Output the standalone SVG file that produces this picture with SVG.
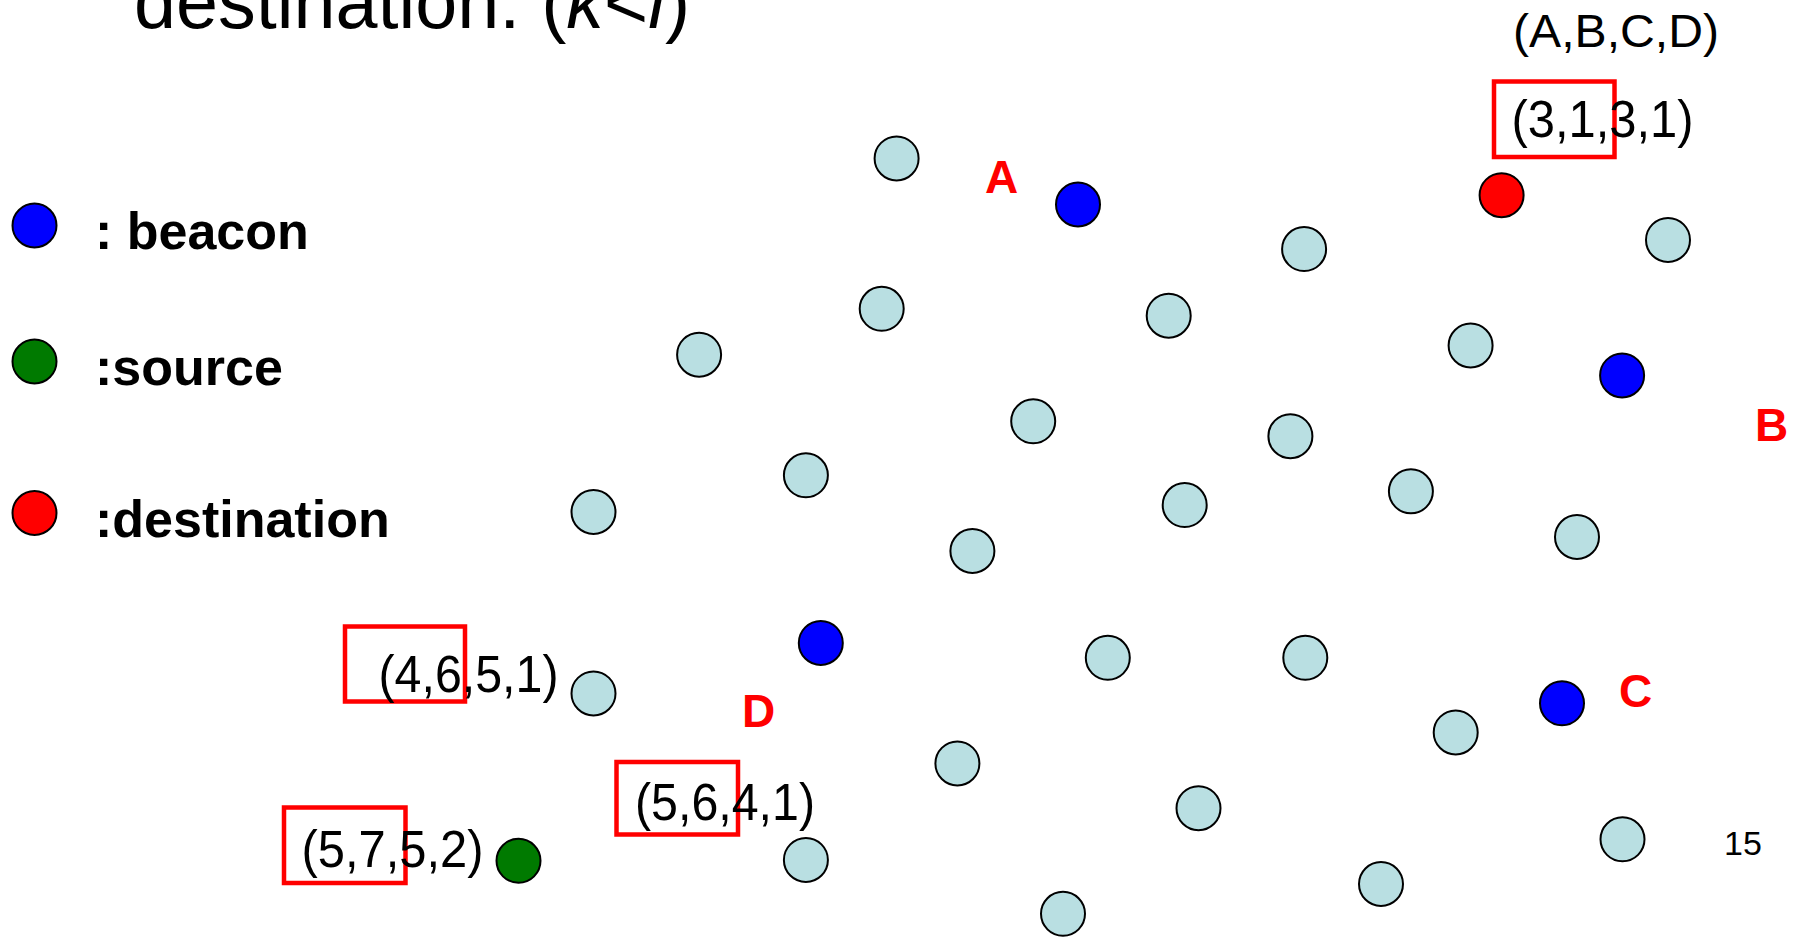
<svg xmlns="http://www.w3.org/2000/svg" width="1800" height="937" viewBox="0 0 1800 937">
<style>
  .n { stroke: #000; stroke-width: 2; }
  .plain { fill: #b9dfe2; }
  .beacon { fill: #0000ff; }
  .source { fill: #007a00; }
  .dest { fill: #ff0000; }
  .t { font-family: "Liberation Sans", Arial, sans-serif; fill: #000; }
  .lbl { font-size: 51px; }
  .leg { font-size: 52px; font-weight: bold; }
  .rl { font-family: "Liberation Sans", Arial, sans-serif; font-size: 46px; font-weight: bold; fill: #ff0000; }
  .box { fill: none; stroke: #ff0000; stroke-width: 4.5; }
</style>
<rect width="1800" height="937" fill="#ffffff"/>

<g id="title">
  <text class="t" x="134" y="28" font-size="75.5">destination: (<tspan font-style="italic">k</tspan>&lt;<tspan font-style="italic">l</tspan>)</text>
</g>

<g id="legend">
  <g id="legend-beacon"><circle class="n beacon" cx="34.5" cy="225.5" r="22"/><text class="t leg" x="95" y="249">: beacon</text></g>
  <g id="legend-source"><circle class="n source" cx="34.5" cy="361.5" r="22"/><text class="t leg" x="95" y="385">:source</text></g>
  <g id="legend-destination"><circle class="n dest" cx="34.5" cy="513" r="22"/><text class="t leg" x="95" y="537">:destination</text></g>
</g>

<g id="header-label"><text class="t" font-size="47" x="1513" y="47" textLength="206" lengthAdjust="spacingAndGlyphs">(A,B,C,D)</text></g>

<g id="nodes">
  <g id="n1"><circle class="n plain" cx="896.6" cy="158.4" r="22"/></g>
  <g id="beacon-A"><circle class="n beacon" cx="1078" cy="204.5" r="22"/><text class="rl" x="985" y="193">A</text></g>
  <g id="destination"><circle class="n dest" cx="1501.6" cy="195.2" r="22"/>
    <rect class="box" x="1494" y="81.5" width="120.5" height="75.5"/>
    <text class="t lbl" x="1511.5" y="137" textLength="182" lengthAdjust="spacingAndGlyphs">(3,1,3,1)</text></g>
  <g id="n4"><circle class="n plain" cx="1304.1" cy="249.1" r="22"/></g>
  <g id="n5"><circle class="n plain" cx="1668" cy="239.9" r="22"/></g>
  <g id="n6"><circle class="n plain" cx="881.7" cy="308.8" r="22"/></g>
  <g id="n7"><circle class="n plain" cx="1168.7" cy="315.7" r="22"/></g>
  <g id="n8"><circle class="n plain" cx="699.1" cy="354.7" r="22"/></g>
  <g id="n9"><circle class="n plain" cx="1470.6" cy="345.5" r="22"/></g>
  <g id="beacon-B"><circle class="n beacon" cx="1622.1" cy="375.4" r="22"/><text class="rl" x="1755" y="441">B</text></g>
  <g id="n11"><circle class="n plain" cx="1033.2" cy="421.3" r="22"/></g>
  <g id="n12"><circle class="n plain" cx="1290.4" cy="436.2" r="22"/></g>
  <g id="n13"><circle class="n plain" cx="805.9" cy="475.3" r="22"/></g>
  <g id="n14"><circle class="n plain" cx="593.5" cy="512" r="22"/></g>
  <g id="n15"><circle class="n plain" cx="1184.7" cy="505.1" r="22"/></g>
  <g id="n16"><circle class="n plain" cx="1410.9" cy="491.3" r="22"/></g>
  <g id="n17"><circle class="n plain" cx="1577" cy="537" r="22"/></g>
  <g id="n18"><circle class="n plain" cx="972.4" cy="551" r="22"/></g>
  <g id="beacon-D"><circle class="n beacon" cx="820.8" cy="642.9" r="22"/><text class="rl" x="742" y="727">D</text></g>
  <g id="n20"><circle class="n plain" cx="1107.8" cy="657.8" r="22"/></g>
  <g id="n21"><circle class="n plain" cx="1305.3" cy="657.8" r="22"/></g>
  <g id="n22"><circle class="n plain" cx="593.5" cy="693.4" r="22"/>
    <rect class="box" x="345" y="626.5" width="120" height="75"/>
    <text class="t lbl" x="378.5" y="692" textLength="180" lengthAdjust="spacingAndGlyphs">(4,6,5,1)</text></g>
  <g id="beacon-C"><circle class="n beacon" cx="1562" cy="703.3" r="22"/><text class="rl" x="1619" y="707">C</text></g>
  <g id="n24"><circle class="n plain" cx="1455.7" cy="732.4" r="22"/></g>
  <g id="n25"><circle class="n plain" cx="957.4" cy="763.4" r="22"/></g>
  <g id="n26"><circle class="n plain" cx="1198.5" cy="808.2" r="22"/></g>
  <g id="n27"><circle class="n plain" cx="1622.5" cy="839.3" r="22"/></g>
  <g id="source"><circle class="n source" cx="518.5" cy="860.8" r="22"/>
    <rect class="box" x="284" y="807.5" width="121.5" height="75.5"/>
    <text class="t lbl" x="301.5" y="867" textLength="182" lengthAdjust="spacingAndGlyphs">(5,7,5,2)</text></g>
  <g id="n29"><circle class="n plain" cx="805.9" cy="859.9" r="22"/>
    <rect class="box" x="616.5" y="762" width="121.5" height="72.5"/>
    <text class="t lbl" x="635" y="820" textLength="180" lengthAdjust="spacingAndGlyphs">(5,6,4,1)</text></g>
  <g id="n30"><circle class="n plain" cx="1381" cy="884" r="22"/></g>
  <g id="n31"><circle class="n plain" cx="1063" cy="913.8" r="22"/></g>
</g>

<g id="page-number"><text class="t" x="1724" y="855" font-size="34">15</text></g>
</svg>
